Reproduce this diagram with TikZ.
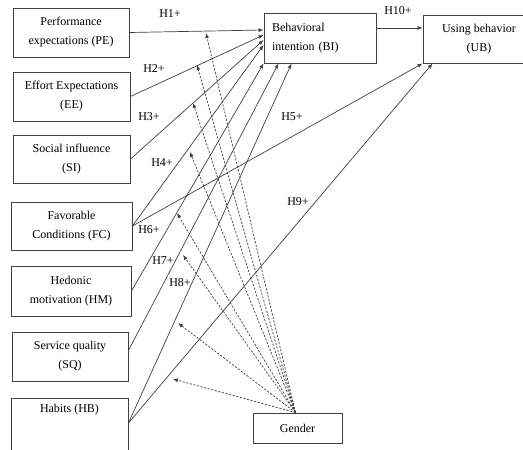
\documentclass[tikz,border=0pt]{standalone}
\usepackage{fontspec}
\setmainfont{Liberation Serif}
\usetikzlibrary{arrows.meta}
\begin{document}
\begin{tikzpicture}[x=1pt,y=-1pt,
  box/.style={draw=black!75, line width=0.9pt, inner sep=0pt, align=center,
    font=\fontsize{12}{19}\selectfont},
  lbl/.style={font=\fontsize{12}{14}\selectfont, inner sep=0pt},
  arr/.style={draw=black!75, line width=0.7pt, -{Latex[length=5pt,width=4pt]}},
  darr/.style={arr, dash pattern=on 2.2pt off 1.5pt}]
\useasboundingbox (0,0) rectangle (523,450);
% boxes
\node[box, minimum width=116pt, minimum height=49pt] (PE) at (71,32.5) {Performance\\expectations (PE)};
\node[box, minimum width=117pt, minimum height=49pt] (EE) at (71.5,96.5) {Effort Expectations\\(EE)};
\node[box, minimum width=117pt, minimum height=48pt] (SI) at (71.5,159) {Social influence\\(SI)};
\node[box, minimum width=121pt, minimum height=48pt] (FC) at (71.5,226) {Favorable\\Conditions (FC)};
\node[box, minimum width=120pt, minimum height=50pt] (HM) at (71,291) {Hedonic\\motivation (HM)};
\node[box, minimum width=116pt, minimum height=49pt] (SQ) at (70,356.5) {Service quality\\(SQ)};
\node[box, minimum width=117pt, minimum height=72pt,
  label={[lbl,anchor=north,yshift=-6pt]north:Habits (HB)}] (HB) at (69.5,434) {};
\node[box, minimum height=50pt, text width=96pt, inner xsep=8pt, align=left] (BI) at (320,38) {Behavioral\\intention (BI)};
\node[box, minimum width=112pt, minimum height=48pt] (UB) at (479,39) {Using behavior\\(UB)};
\node[box, minimum width=89pt, minimum height=30pt] (G) at (297.5,428) {Gender};
% connection points
\coordinate (hbs) at ([yshift=11pt]HB.east);
\coordinate (sqs) at ([yshift=6pt]SQ.east);
% solid arrows
\draw[arr] (PE.east) -- ([yshift=8pt]BI.west);
\draw[arr] (EE.east) -- ([yshift=3pt]BI.west);
\draw[arr] (SI.east) -- ([yshift=-2pt]BI.west);
\draw[arr] (FC.east) -- ([yshift=-7pt]BI.west);
\draw[arr] (HM.east) -- (BI.south west);
\draw[arr] (sqs) -- ([xshift=15pt]BI.south west);
\draw[arr] (hbs) -- ([xshift=28pt]BI.south west);
\draw[arr] ([yshift=10pt]BI.east) -- ([yshift=10pt]BI.east -| UB.west);
\draw[arr] (FC.east) -- (UB.south west);
\draw[arr] (hbs) -- ([xshift=10pt]UB.south west);
% moderation targets
\coordinate (g1) at (206,33);
\coordinate (g2) at (197,65);
\coordinate (g3) at (193,103);
\coordinate (g4) at (190,152);
\coordinate (g5) at (177,213);
\coordinate (g6) at (183,255);
\coordinate (g7) at (178,323);
\coordinate (g8) at (173,379);
\foreach \t in {g1,g2,g3,g4,g5,g6,g7,g8}
  \draw[darr] ([xshift=-2pt]G.north) -- (\t);
% labels
\node[lbl] (h1) at (170,14) {H1+};
\node[lbl] (h2) at (154,69) {H2+};
\node[lbl] (h3) at (149,117) {H3+};
\node[lbl] (h4) at (162,163) {H4+};
\node[lbl] (h5) at (292,117) {H5+};
\node[lbl] (h6) at (149,230) {H6+};
\node[lbl] (h7) at (163,261) {H7+};
\node[lbl] (h8) at (180,283) {H8+};
\node[lbl] (h9) at (298,202) {H9+};
\node[lbl] (h10) at (398,11) {H10+};
\end{tikzpicture}
\end{document}
